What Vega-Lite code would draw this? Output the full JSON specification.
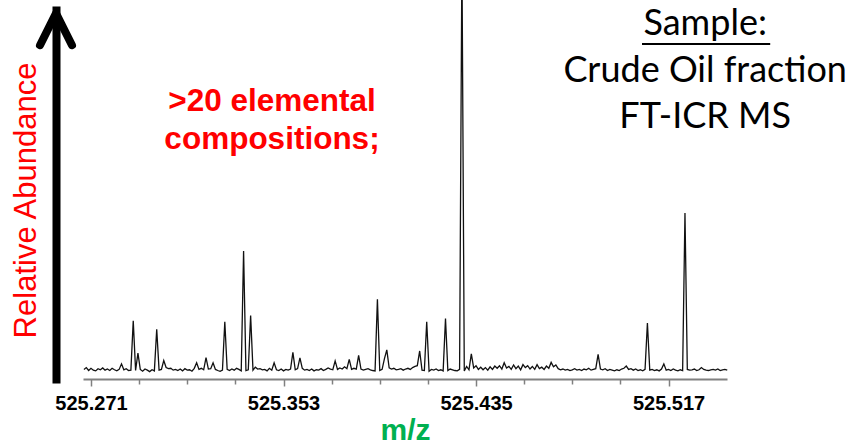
{
  "$schema": "https://vega.github.io/schema/vega-lite/v6.json",
  "width": 644,
  "height": 369,
  "autosize": {"type": "none"},
  "padding": {"left": 83, "top": 10, "right": 125, "bottom": 68},
  "background": "white",
  "config": {"view": {"stroke": null}},
  "layer": [
    {
      "data": {"values": [
        {"mz":525.268,"i":2.6},{"mz":525.269,"i":3.1},{"mz":525.270,"i":2.3},{"mz":525.271,"i":2.9},{"mz":525.272,"i":2.4},{"mz":525.273,"i":2.2},{"mz":525.274,"i":2.8},{"mz":525.275,"i":2.5},{"mz":525.276,"i":3.0},{"mz":525.277,"i":2.4},
        {"mz":525.278,"i":2.7},{"mz":525.279,"i":2.3},{"mz":525.280,"i":2.9},{"mz":525.281,"i":2.5},{"mz":525.282,"i":2.2},{"mz":525.283,"i":2.6},{"mz":525.284,"i":4.1},{"mz":525.285,"i":2.5},{"mz":525.286,"i":2.8},{"mz":525.287,"i":2.3},
        {"mz":525.288,"i":2.4},{"mz":525.289,"i":15.8},{"mz":525.290,"i":2.3},{"mz":525.291,"i":7.0},{"mz":525.292,"i":2.6},{"mz":525.293,"i":2.1},{"mz":525.294,"i":2.7},{"mz":525.295,"i":2.4},{"mz":525.296,"i":2.0},{"mz":525.297,"i":2.5},
        {"mz":525.298,"i":2.2},{"mz":525.299,"i":13.5},{"mz":525.300,"i":2.4},{"mz":525.301,"i":2.6},{"mz":525.302,"i":5.0},{"mz":525.303,"i":3.1},{"mz":525.304,"i":2.8},{"mz":525.305,"i":2.9},{"mz":525.306,"i":2.4},{"mz":525.307,"i":2.6},
        {"mz":525.308,"i":2.3},{"mz":525.309,"i":2.7},{"mz":525.310,"i":2.2},{"mz":525.311,"i":2.8},{"mz":525.312,"i":2.4},{"mz":525.313,"i":2.5},{"mz":525.314,"i":2.1},{"mz":525.315,"i":2.9},{"mz":525.316,"i":4.4},{"mz":525.317,"i":2.6},
        {"mz":525.318,"i":2.9},{"mz":525.319,"i":2.5},{"mz":525.320,"i":5.8},{"mz":525.321,"i":2.7},{"mz":525.322,"i":2.8},{"mz":525.323,"i":4.4},{"mz":525.324,"i":2.6},{"mz":525.325,"i":2.3},{"mz":525.326,"i":2.1},{"mz":525.327,"i":2.4},
        {"mz":525.328,"i":15.5},{"mz":525.329,"i":2.6},{"mz":525.330,"i":2.3},{"mz":525.331,"i":2.7},{"mz":525.332,"i":2.4},{"mz":525.333,"i":2.9},{"mz":525.334,"i":2.6},{"mz":525.335,"i":2.2},{"mz":525.336,"i":34.7},{"mz":525.337,"i":2.3},
        {"mz":525.338,"i":2.5},{"mz":525.339,"i":17.2},{"mz":525.340,"i":2.4},{"mz":525.341,"i":3.2},{"mz":525.342,"i":2.7},{"mz":525.343,"i":2.8},{"mz":525.344,"i":2.5},{"mz":525.345,"i":2.6},{"mz":525.346,"i":2.2},{"mz":525.347,"i":2.9},
        {"mz":525.348,"i":2.4},{"mz":525.349,"i":4.4},{"mz":525.350,"i":2.5},{"mz":525.351,"i":2.3},{"mz":525.352,"i":2.7},{"mz":525.353,"i":2.2},{"mz":525.354,"i":2.6},{"mz":525.355,"i":2.4},{"mz":525.356,"i":2.7},{"mz":525.357,"i":7.2},
        {"mz":525.358,"i":2.5},{"mz":525.359,"i":2.8},{"mz":525.360,"i":5.7},{"mz":525.361,"i":2.9},{"mz":525.362,"i":2.4},{"mz":525.363,"i":2.6},{"mz":525.364,"i":2.3},{"mz":525.365,"i":2.7},{"mz":525.366,"i":2.2},{"mz":525.367,"i":2.5},
        {"mz":525.368,"i":2.4},{"mz":525.369,"i":2.8},{"mz":525.370,"i":2.3},{"mz":525.371,"i":2.6},{"mz":525.372,"i":3.0},{"mz":525.373,"i":2.7},{"mz":525.374,"i":2.5},{"mz":525.375,"i":4.9},{"mz":525.376,"i":2.6},{"mz":525.377,"i":3.0},
        {"mz":525.378,"i":2.7},{"mz":525.379,"i":3.3},{"mz":525.380,"i":2.8},{"mz":525.381,"i":5.3},{"mz":525.382,"i":2.6},{"mz":525.383,"i":2.9},{"mz":525.384,"i":2.7},{"mz":525.385,"i":6.4},{"mz":525.386,"i":2.7},{"mz":525.387,"i":2.4},
        {"mz":525.388,"i":2.6},{"mz":525.389,"i":2.8},{"mz":525.390,"i":2.5},{"mz":525.391,"i":2.3},{"mz":525.392,"i":2.2},{"mz":525.393,"i":21.6},{"mz":525.394,"i":2.3},{"mz":525.395,"i":2.6},{"mz":525.396,"i":5.5},{"mz":525.397,"i":7.9},
        {"mz":525.398,"i":3.0},{"mz":525.399,"i":2.7},{"mz":525.400,"i":2.9},{"mz":525.401,"i":2.5},{"mz":525.402,"i":2.6},{"mz":525.403,"i":2.8},{"mz":525.404,"i":2.4},{"mz":525.405,"i":2.7},{"mz":525.406,"i":2.9},{"mz":525.407,"i":2.6},
        {"mz":525.408,"i":3.1},{"mz":525.409,"i":3.4},{"mz":525.410,"i":3.6},{"mz":525.411,"i":7.6},{"mz":525.412,"i":2.4},{"mz":525.413,"i":2.3},{"mz":525.414,"i":15.5},{"mz":525.415,"i":2.1},{"mz":525.416,"i":2.6},{"mz":525.417,"i":2.4},
        {"mz":525.418,"i":2.7},{"mz":525.419,"i":2.3},{"mz":525.420,"i":2.5},{"mz":525.421,"i":2.2},{"mz":525.422,"i":16.4},{"mz":525.423,"i":2.3},{"mz":525.424,"i":2.7},{"mz":525.425,"i":2.5},{"mz":525.426,"i":2.3},{"mz":525.427,"i":2.2},
        {"mz":525.428,"i":2.6},{"mz":525.429,"i":115},{"mz":525.430,"i":2.2},{"mz":525.431,"i":3.4},{"mz":525.432,"i":2.5},{"mz":525.433,"i":6.8},{"mz":525.434,"i":3.0},{"mz":525.435,"i":3.6},{"mz":525.436,"i":2.6},{"mz":525.437,"i":3.2},
        {"mz":525.438,"i":2.5},{"mz":525.439,"i":3.1},{"mz":525.440,"i":2.4},{"mz":525.441,"i":3.3},{"mz":525.442,"i":2.6},{"mz":525.443,"i":3.5},{"mz":525.444,"i":2.9},{"mz":525.445,"i":3.6},{"mz":525.446,"i":2.7},{"mz":525.447,"i":4.4},
        {"mz":525.448,"i":3.0},{"mz":525.449,"i":3.4},{"mz":525.450,"i":2.6},{"mz":525.451,"i":3.8},{"mz":525.452,"i":2.8},{"mz":525.453,"i":3.5},{"mz":525.454,"i":2.5},{"mz":525.455,"i":3.9},{"mz":525.456,"i":3.1},{"mz":525.457,"i":3.6},
        {"mz":525.458,"i":2.7},{"mz":525.459,"i":3.4},{"mz":525.460,"i":2.6},{"mz":525.461,"i":3.9},{"mz":525.462,"i":2.8},{"mz":525.463,"i":3.2},{"mz":525.464,"i":2.6},{"mz":525.465,"i":3.5},{"mz":525.466,"i":2.9},{"mz":525.467,"i":4.5},
        {"mz":525.468,"i":3.3},{"mz":525.469,"i":3.8},{"mz":525.470,"i":2.8},{"mz":525.471,"i":2.5},{"mz":525.472,"i":2.7},{"mz":525.473,"i":2.4},{"mz":525.474,"i":2.6},{"mz":525.475,"i":2.3},{"mz":525.476,"i":2.5},{"mz":525.477,"i":2.8},
        {"mz":525.478,"i":2.4},{"mz":525.479,"i":2.6},{"mz":525.480,"i":2.3},{"mz":525.481,"i":2.7},{"mz":525.482,"i":2.5},{"mz":525.483,"i":2.9},{"mz":525.484,"i":2.4},{"mz":525.485,"i":2.6},{"mz":525.486,"i":2.8},{"mz":525.487,"i":6.7},
        {"mz":525.488,"i":2.7},{"mz":525.489,"i":2.5},{"mz":525.490,"i":2.8},{"mz":525.491,"i":2.3},{"mz":525.492,"i":2.6},{"mz":525.493,"i":2.4},{"mz":525.494,"i":2.2},{"mz":525.495,"i":2.5},{"mz":525.496,"i":2.3},{"mz":525.497,"i":2.7},
        {"mz":525.498,"i":2.9},{"mz":525.499,"i":3.5},{"mz":525.500,"i":2.6},{"mz":525.501,"i":2.8},{"mz":525.502,"i":2.4},{"mz":525.503,"i":2.7},{"mz":525.504,"i":2.3},{"mz":525.505,"i":2.5},{"mz":525.506,"i":2.2},{"mz":525.507,"i":2.6},
        {"mz":525.508,"i":15.2},{"mz":525.509,"i":2.4},{"mz":525.510,"i":2.6},{"mz":525.511,"i":2.3},{"mz":525.512,"i":2.5},{"mz":525.513,"i":2.2},{"mz":525.514,"i":2.7},{"mz":525.515,"i":4.1},{"mz":525.516,"i":2.4},{"mz":525.517,"i":2.6},
        {"mz":525.518,"i":2.3},{"mz":525.519,"i":2.7},{"mz":525.520,"i":2.4},{"mz":525.521,"i":2.2},{"mz":525.522,"i":2.5},{"mz":525.523,"i":2.3},{"mz":525.524,"i":45},{"mz":525.525,"i":2.6},{"mz":525.526,"i":2.4},{"mz":525.527,"i":2.5},
        {"mz":525.528,"i":2.7},{"mz":525.529,"i":2.3},{"mz":525.530,"i":2.5},{"mz":525.531,"i":3.1},{"mz":525.532,"i":2.6},{"mz":525.533,"i":2.4},{"mz":525.534,"i":2.3},{"mz":525.535,"i":2.5},{"mz":525.536,"i":2.6},{"mz":525.537,"i":2.4},
        {"mz":525.538,"i":2.7},{"mz":525.539,"i":2.3},{"mz":525.540,"i":2.5},{"mz":525.541,"i":2.6},{"mz":525.542,"i":2.4}
      ]},
      "mark": {"type": "line", "color": "#111111", "strokeWidth": 1.3, "interpolate": "linear"},
      "encoding": {
        "x": {
          "field": "mz", "type": "quantitative",
          "scale": {"domain": [525.2676, 525.5419], "nice": false, "zero": false},
          "axis": {
            "values": [525.271,525.28125,525.2915,525.30175,525.312,525.32225,525.3325,525.34275,525.353,525.36325,525.3735,525.38375,525.394,525.40425,525.4145,525.42475,525.435,525.44525,525.4555,525.46575,525.476,525.48625,525.4965,525.50675,525.517],
            "labelExpr": "abs(((datum.value-525.271)/0.082) - round((datum.value-525.271)/0.082)) < 0.01 ? format(datum.value, '.3f') : ''",
            "labelFont": "Liberation Sans", "labelFontWeight": "bold", "labelFontSize": 20, "labelColor": "black",
            "labelPadding": 7, "labelOverlap": false, "labelFlush": false, "labelBound": false,
            "domainColor": "#808080", "domainWidth": 2,
            "tickColor": "#808080", "tickWidth": 1.5,
            "tickSize": {"condition": {"test": "abs(((datum.value-525.271)/0.082) - round((datum.value-525.271)/0.082)) < 0.01", "value": 7}, "value": 5},
            "grid": false,
            "title": "m/z", "titleColor": "#00B050", "titleFont": "Liberation Sans", "titleFontWeight": "bold", "titleFontSize": 30, "titlePadding": 2
          }
        },
        "y": {
          "field": "i", "type": "quantitative",
          "scale": {"domain": [0, 100], "nice": false, "zero": true},
          "axis": {
            "orient": "left", "offset": 27,
            "domainColor": "black", "domainWidth": 8, "domainCap": "square",
            "ticks": false, "labels": false, "grid": false,
            "title": "Relative Abundance", "titleColor": "#FF0000", "titleFont": "Liberation Sans",
            "titleFontSize": 31, "titleFontWeight": "normal", "titleAngle": 270,
            "titleX": -21, "titleY": 190, "titleAlign": "center", "titleBaseline": "alphabetic"
          }
        }
      }
    },
    {
      "data": {"values": [{}]},
      "mark": {"type": "point", "shape": "M-0.5,1.1L0,0.1L0.5,1.1", "size": 4096, "filled": false, "stroke": "black", "strokeWidth": 8, "strokeCap": "round", "strokeJoin": "round", "opacity": 1},
      "encoding": {
        "x": {"datum": 525.2561, "type": "quantitative"},
        "y": {"datum": 100, "type": "quantitative"}
      }
    },
    {
      "data": {"values": [{}]},
      "mark": {"type": "text", "text": [">20 elemental", "compositions;"], "font": "Liberation Sans", "fontWeight": "bold", "fontSize": 31.5, "color": "#FF0000", "align": "center", "baseline": "alphabetic", "lineHeight": 38},
      "encoding": {
        "x": {"datum": 525.3481, "type": "quantitative"},
        "y": {"datum": 72.6, "type": "quantitative"}
      }
    },
    {
      "data": {"values": [{}]},
      "mark": {"type": "text", "text": ["Sample:", "Crude Oil fraction", "FT-ICR MS"], "font": "Lato", "fontSize": 36, "color": "black", "align": "center", "baseline": "alphabetic", "lineHeight": 46.5},
      "encoding": {
        "x": {"datum": 525.5326, "type": "quantitative"},
        "y": {"datum": 93.2, "type": "quantitative"}
      }
    },
    {
      "data": {"values": [{}]},
      "mark": {"type": "rule", "color": "black", "strokeWidth": 2},
      "encoding": {
        "x": {"datum": 525.5057, "type": "quantitative"},
        "x2": {"datum": 525.5603},
        "y": {"datum": 90.8, "type": "quantitative"}
      }
    }
  ]
}
